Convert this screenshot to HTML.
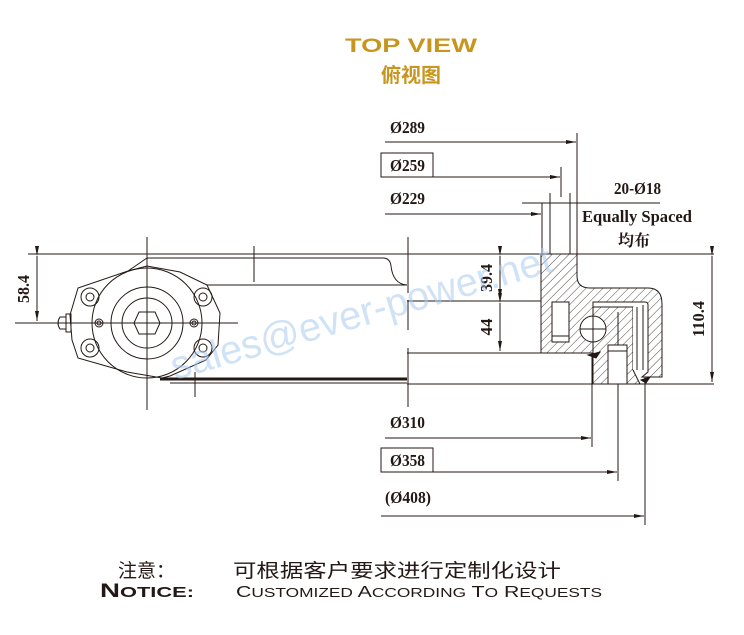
<!DOCTYPE html>
<html><head><meta charset="utf-8"><style>
html,body{margin:0;padding:0;background:#fff;width:744px;height:635px;overflow:hidden}
svg{display:block}
.t{font-family:"Liberation Serif",serif;font-weight:bold;font-size:17px;fill:#231815}
</style></head><body>
<svg width="744" height="635" viewBox="0 0 744 635" xmlns="http://www.w3.org/2000/svg">
<defs>
<pattern id="h" width="6" height="6" patternUnits="userSpaceOnUse" patternTransform="rotate(45)">
<rect width="6" height="6" fill="#fff"/><line x1="0" y1="0" x2="0" y2="6" stroke="#231815" stroke-width="0.8"/></pattern>
<marker id="a" viewBox="0 0 10 4" refX="10" refY="2" markerWidth="10" markerHeight="4" orient="auto" markerUnits="userSpaceOnUse"><path d="M0,0 L10,2 L0,4Z" fill="#231815"/></marker>
</defs>
<text x="411" y="52" text-anchor="middle" font-family="Liberation Sans,sans-serif" font-weight="bold" font-size="19" fill="#c8961e" textLength="132" lengthAdjust="spacingAndGlyphs">TOP VIEW</text>
<text x="411" y="82" text-anchor="middle" font-family="Liberation Sans,Noto Sans CJK SC,sans-serif" font-weight="bold" font-size="20" fill="#c8961e">俯视图</text>

<g stroke="#231815" stroke-width="1" fill="none">
<line x1="28" y1="254" x2="714" y2="254"/>
<line x1="147" y1="237" x2="147" y2="410"/>
<line x1="15" y1="323" x2="238" y2="323"/>
<line x1="37" y1="256" x2="37" y2="321" marker-start="url(#a)" marker-end="url(#a)"/>
<path d="M147,258 H383 Q390,258 391,266 Q393,284 407,285 M207,285 H407"/>
<line x1="254" y1="246" x2="254" y2="282"/>
<path d="M128,271 L147,258 M128,271 L78,288 L70,315 L72,340 L78,358 L127,372 L162,378 M128,271 L147,266 L180,272 L207,285 L220,313 L218,345 L206,360 L170,376 L162,378"/>
<circle cx="147" cy="323" r="55"/>
<circle cx="147" cy="323" r="36"/>
<circle cx="147" cy="323" r="25"/>
<polygon points="139,312 155,312 160,323 155,334 139,334 134,323"/>
<circle cx="90" cy="297" r="9"/><circle cx="90" cy="297" r="4"/>
<circle cx="203" cy="297" r="9"/><circle cx="203" cy="297" r="4"/>
<circle cx="90" cy="348" r="9"/><circle cx="90" cy="348" r="4"/>
<circle cx="203" cy="348" r="9"/><circle cx="203" cy="348" r="4"/>
<circle cx="99" cy="323" r="4"/><circle cx="99" cy="323" r="2"/>
<circle cx="194" cy="323" r="4"/><circle cx="194" cy="323" r="2"/>
<rect x="66" y="314" width="5" height="18"/><path d="M66,317 H60 Q56,323 60,329 H66"/>
<line x1="160" y1="379" x2="407" y2="379" stroke-width="3"/>
<line x1="170" y1="383" x2="407" y2="383"/>
<line x1="195" y1="372" x2="195" y2="397"/>
<line x1="408" y1="237" x2="408" y2="293"/>
<line x1="408" y1="300" x2="408" y2="330"/>
<line x1="408" y1="348" x2="408" y2="407"/>

<line x1="407" y1="301" x2="577" y2="301"/>
<line x1="407" y1="353" x2="592" y2="353"/>
<line x1="407" y1="384" x2="714" y2="384"/>
<line x1="385" y1="142" x2="576" y2="142" marker-end="url(#a)"/>
<line x1="577" y1="133" x2="577" y2="255"/>
<line x1="433" y1="177" x2="560" y2="177" marker-end="url(#a)"/>
<line x1="561" y1="167" x2="561" y2="197"/>
<line x1="385" y1="214" x2="541" y2="214" marker-end="url(#a)"/>
<line x1="522" y1="203" x2="660" y2="203"/>
<line x1="542" y1="203" x2="542" y2="255"/>
<line x1="550" y1="193" x2="550" y2="255"/>
<line x1="570" y1="193" x2="570" y2="255"/>
<line x1="500" y1="256" x2="500" y2="299" marker-start="url(#a)" marker-end="url(#a)"/>
<line x1="500" y1="303" x2="500" y2="351" marker-start="url(#a)" marker-end="url(#a)"/>
<line x1="712" y1="256" x2="712" y2="382" marker-start="url(#a)" marker-end="url(#a)"/>
<rect x="381" y="153" width="52" height="24"/>
<rect x="381" y="448" width="52" height="24"/>
<line x1="385" y1="438" x2="591" y2="438" marker-end="url(#a)"/>
<line x1="592" y1="353" x2="592" y2="447"/>
<line x1="433" y1="472" x2="617" y2="472" marker-end="url(#a)"/>
<line x1="618" y1="384" x2="618" y2="481"/>
<line x1="381" y1="516" x2="644" y2="516" marker-end="url(#a)"/>
<line x1="645" y1="375" x2="645" y2="525"/>
</g>
<g stroke="#231815" stroke-width="1">
<path fill="url(#h)" d="M541,254 H577 V276 Q577,288 590,288 H648 Q662,288 662,304 V377 H642 L648,372 V305 Q648,302 645,302 H593 V353 H541 Z"/>
<path fill="url(#h)" d="M593,307 H633 V370 L640,384 H593 Z"/>
<path fill="#fff" d="M633,307 H643 V370 H637 L633,370 Z" stroke="none"/>
<line x1="637" y1="307" x2="637" y2="370"/>
<line x1="643" y1="305" x2="643" y2="370"/>
<rect x="552" y="302" width="17" height="40" fill="#fff"/>
<line x1="552" y1="336" x2="569" y2="336"/>
<rect x="608" y="345" width="19" height="39" fill="#fff"/>
<line x1="608" y1="351" x2="627" y2="351"/>
<circle cx="593" cy="329" r="13" fill="#fff"/>
<line x1="580" y1="329" x2="606" y2="329"/>
<line x1="593" y1="316" x2="593" y2="342"/>
<line x1="618" y1="312" x2="618" y2="345"/>
<path d="M641,380 L650,377 L646,383 Z M588,355 L600,352 L596,358 Z" fill="#231815"/>
</g>
<text class="t" x="390" y="133" textLength="35" lengthAdjust="spacingAndGlyphs">Ø289</text>
<text class="t" x="390" y="171" textLength="35" lengthAdjust="spacingAndGlyphs">Ø259</text>
<text class="t" x="390" y="204" textLength="35" lengthAdjust="spacingAndGlyphs">Ø229</text>
<text class="t" x="614" y="194" textLength="47" lengthAdjust="spacingAndGlyphs">20-Ø18</text>
<text class="t" x="582" y="222" font-size="19" textLength="110" lengthAdjust="spacingAndGlyphs">Equally Spaced</text>
<text x="618" y="246" font-family="Liberation Serif,Noto Serif CJK SC,serif" font-size="16" font-weight="bold" fill="#231815">均布</text>
<text class="t" x="390" y="428" textLength="35" lengthAdjust="spacingAndGlyphs">Ø310</text>
<text class="t" x="390" y="466" textLength="35" lengthAdjust="spacingAndGlyphs">Ø358</text>
<text class="t" x="385" y="503" textLength="46" lengthAdjust="spacingAndGlyphs">(Ø408)</text>
<text class="t" transform="translate(29,289) rotate(-90)" text-anchor="middle" textLength="28" lengthAdjust="spacingAndGlyphs">58.4</text>
<text class="t" transform="translate(492,278) rotate(-90)" text-anchor="middle" textLength="28" lengthAdjust="spacingAndGlyphs">39.4</text>
<text class="t" transform="translate(492,327) rotate(-90)" text-anchor="middle">44</text>
<text class="t" transform="translate(704,319) rotate(-90)" text-anchor="middle" textLength="36" lengthAdjust="spacingAndGlyphs">110.4</text>
<text x="175" y="380" transform="rotate(-16 175 380)" font-family="Liberation Sans,sans-serif" font-size="40" fill="#a9cbee" fill-opacity="0.55" textLength="395" lengthAdjust="spacingAndGlyphs">sales@ever-power.net</text>
<text x="118" y="577" font-family="Liberation Sans,Noto Sans CJK SC,sans-serif" font-size="19" fill="#231815">注意：</text>
<text x="233" y="577" font-family="Liberation Sans,Noto Sans CJK SC,sans-serif" font-size="19" fill="#231815" textLength="328" lengthAdjust="spacingAndGlyphs">可根据客户要求进行定制化设计</text>
<text x="100" y="597" font-family="Liberation Sans,sans-serif" font-weight="bold" font-size="19" fill="#231815" textLength="94" lengthAdjust="spacingAndGlyphs">N<tspan font-size="15">OTICE:</tspan></text>
<text x="236" y="597" font-family="Liberation Sans,sans-serif" font-size="16" fill="#231815" textLength="366" lengthAdjust="spacingAndGlyphs">C<tspan font-size="13">USTOMIZED</tspan> A<tspan font-size="13">CCORDING</tspan> T<tspan font-size="13">O</tspan> R<tspan font-size="13">EQUESTS</tspan></text>
</svg>
</body></html>
